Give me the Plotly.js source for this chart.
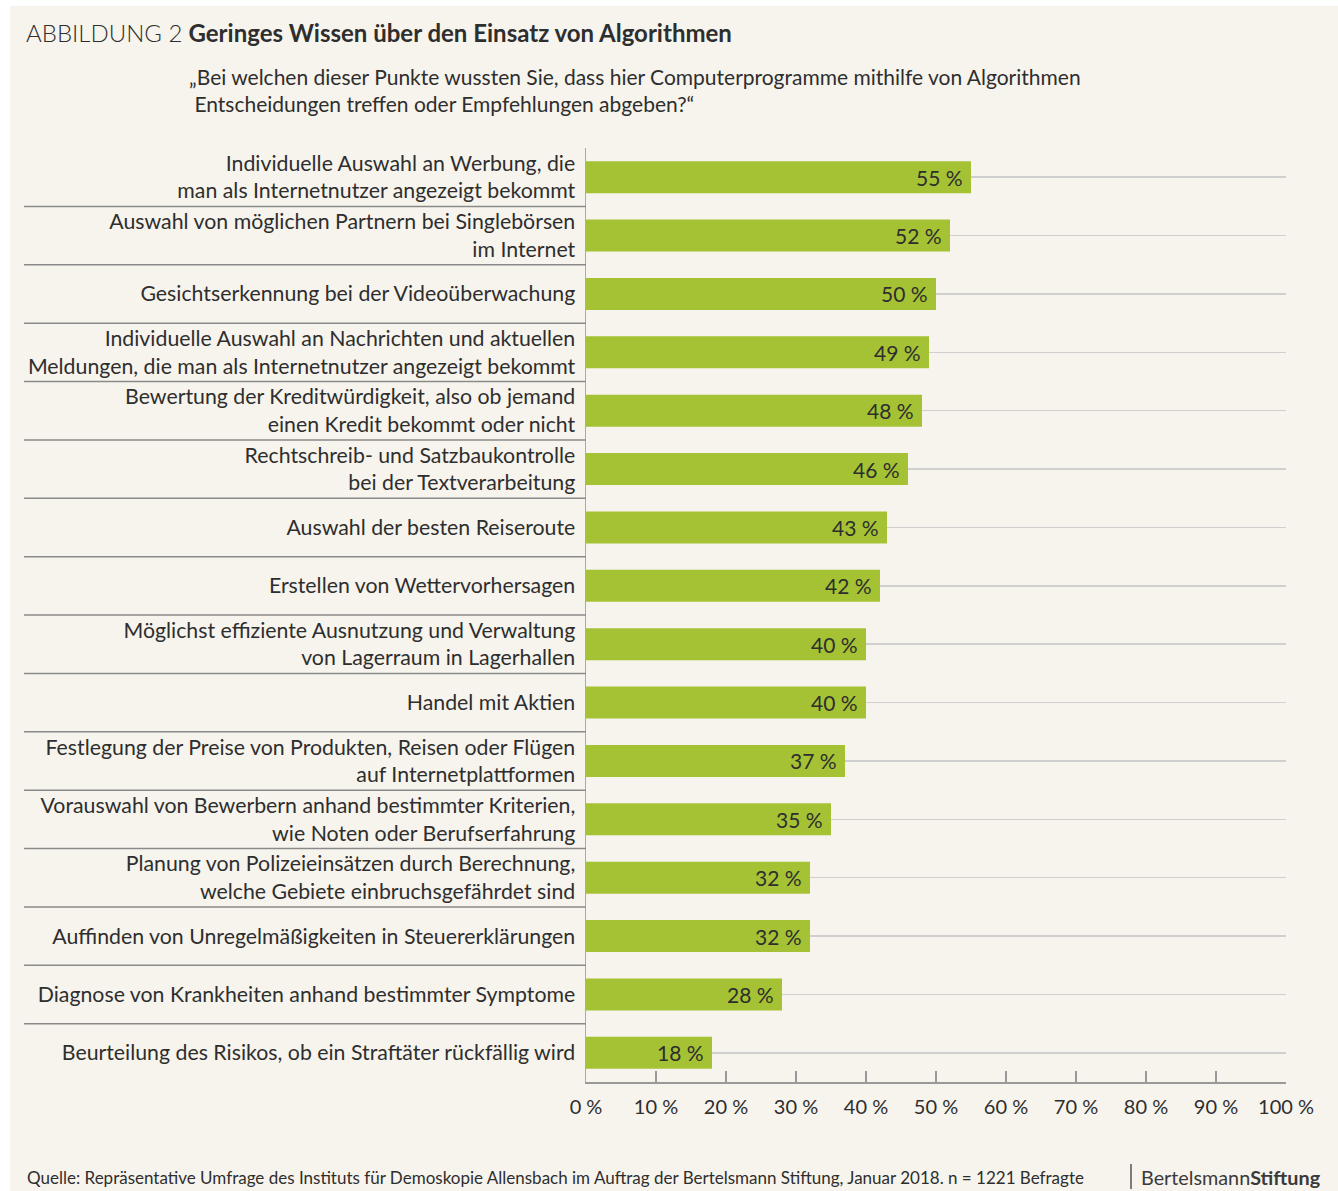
<!DOCTYPE html>
<html>
<head>
<meta charset="utf-8">
<script src="https://cdn.plot.ly/plotly-3.0.1.min.js"></script>
<style>html,body{margin:0;padding:0;background:#fff;}#chart{width:1338px;height:1191px;}</style>
</head>
<body>
<div id="chart"></div>
<script>
const categories = [
  "Individuelle Auswahl an Werbung, die<br>man als Internetnutzer angezeigt bekommt",
  "Auswahl von möglichen Partnern bei Singlebörsen<br>im Internet",
  "Gesichtserkennung bei der Videoüberwachung",
  "Individuelle Auswahl an Nachrichten und aktuellen<br>Meldungen, die man als Internetnutzer angezeigt bekommt",
  "Bewertung der Kreditwürdigkeit, also ob jemand<br>einen Kredit bekommt oder nicht",
  "Rechtschreib- und Satzbaukontrolle<br>bei der Textverarbeitung",
  "Auswahl der besten Reiseroute",
  "Erstellen von Wettervorhersagen",
  "Möglichst effiziente Ausnutzung und Verwaltung<br>von Lagerraum in Lagerhallen",
  "Handel mit Aktien",
  "Festlegung der Preise von Produkten, Reisen oder Flügen<br>auf Internetplattformen",
  "Vorauswahl von Bewerbern anhand bestimmter Kriterien,<br>wie Noten oder Berufserfahrung",
  "Planung von Polizeieinsätzen durch Berechnung,<br>welche Gebiete einbruchsgefährdet sind",
  "Auffinden von Unregelmäßigkeiten in Steuererklärungen",
  "Diagnose von Krankheiten anhand bestimmter Symptome",
  "Beurteilung des Risikos, ob ein Straftäter rückfällig wird"
];
const values = [55, 52, 50, 49, 48, 46, 43, 42, 40, 40, 37, 35, 32, 32, 28, 18];
const tickValues = [0, 10, 20, 30, 40, 50, 60, 70, 80, 90, 100];
const tickLabels = ["0 %", "10 %", "20 %", "30 %", "40 %", "50 %", "60 %", "70 %", "80 %", "90 %", "100 %"];

const titleLight = "ABBILDUNG 2";
const titleBold = "Geringes Wissen über den Einsatz von Algorithmen";
const subtitle = "„Bei welchen dieser Punkte wussten Sie, dass hier Computerprogramme mithilfe von Algorithmen<br> Entscheidungen treffen oder Empfehlungen abgeben?“";
const source = "Quelle: Repräsentative Umfrage des Instituts für Demoskopie Allensbach im Auftrag der Bertelsmann Stiftung, Januar 2018. n = 1221 Befragte";

// pixel helpers for paper coordinates (plot area: x 586..1286, y 148..1082)
const L = 586, R = 1286, T = 148, B = 1082;
const px = x => (x - L) / (R - L);
const py = y => (B - y) / (B - T);

const FONT = "Lato, 'Open Sans', sans-serif";
const TXT = "#2e2e2e";

const shapes = [
  {type: "rect", xref: "paper", yref: "paper", x0: px(10), x1: px(1338), y0: py(1191), y1: py(6),
   fillcolor: "#f7f4ed", line: {width: 0}, layer: "below"},
  {type: "line", xref: "paper", yref: "paper", x0: px(1131), x1: px(1131), y0: py(1164), y1: py(1189),
   line: {color: "#555", width: 1.5}}
];
for (let i = 0; i < categories.length - 1; i++) {
  shapes.push({type: "line", xref: "paper", yref: "y", x0: px(24), x1: px(586),
    y0: i + 0.5, y1: i + 0.5, line: {color: "#8a8a8a", width: 1.5}});
}

const trace = {
  type: "bar", orientation: "h",
  y: categories, x: values,
  marker: {color: "#a5c234", line: {width: 0}},
  text: values.map(v => v + " %\u00a0"),
  textposition: "inside", insidetextanchor: "end",
  textfont: {family: FONT, size: 21, color: TXT},
  constraintext: "none",
  hoverinfo: "none", cliponaxis: false
};

const layout = {
  width: 1338, height: 1191,
  margin: {l: L, r: 1338 - R, t: T, b: 1191 - B, pad: 0},
  paper_bgcolor: "#ffffff", plot_bgcolor: "rgba(0,0,0,0)",
  font: {family: FONT, color: TXT},
  showlegend: false,
  bargap: 0.45,
  xaxis: {range: [0, 100], fixedrange: true, tickvals: tickValues, ticktext: tickLabels,
    ticks: "inside", ticklen: 11, tickcolor: "#999", tickwidth: 1.2,
    showline: true, linecolor: "#999", linewidth: 1.5,
    showgrid: false, zeroline: false,
    tickfont: {family: FONT, size: 20, color: TXT}, ticklabelstandoff: 6},
  yaxis: {type: "category", autorange: "reversed", fixedrange: true,
    showline: true, linecolor: "#aaa", linewidth: 1.5, ticks: "",
    showgrid: true, gridcolor: "#cfcfcf", gridwidth: 1.5,
    tickfont: {family: FONT, size: 21.3, color: TXT}, ticklabelstandoff: 5},
  shapes: shapes,
  annotations: [
    {xref: "paper", yref: "paper", x: px(24), y: py(33), xanchor: "left", yanchor: "middle", showarrow: false,
     text: "<span style='font-weight:300'>" + titleLight + "</span> <b>" + titleBold + "</b>",
     font: {family: FONT, size: 24, color: "#2e2e2e"}},
    {xref: "paper", yref: "paper", x: px(187), y: py(90), xanchor: "left", yanchor: "middle", showarrow: false,
     align: "left", text: subtitle, font: {family: FONT, size: 21, color: TXT}},
    {xref: "paper", yref: "paper", x: px(25), y: py(1177), xanchor: "left", yanchor: "middle", showarrow: false,
     text: source, font: {family: FONT, size: 17, color: TXT}},
    {xref: "paper", yref: "paper", x: px(1139), y: py(1177), xanchor: "left", yanchor: "middle", showarrow: false,
     text: "Bertelsmann<b>Stiftung</b>", font: {family: FONT, size: 19.8, color: "#3a3a3a"}}
  ]
};

Plotly.newPlot("chart", [trace], layout, {displayModeBar: false, staticPlot: true});
</script>
</body>
</html>
